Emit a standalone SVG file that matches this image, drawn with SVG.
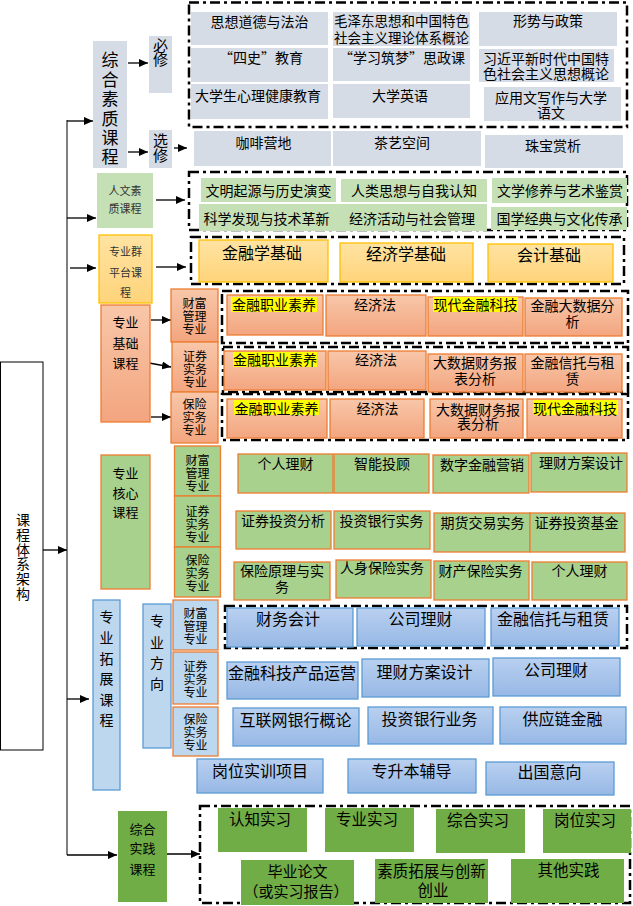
<svg xmlns="http://www.w3.org/2000/svg" width="633" height="906" viewBox="0 0 633 906">
<defs>
<linearGradient id="gSal" x1="0" y1="0" x2="0" y2="1"><stop offset="0" stop-color="#f8c7a9"/><stop offset="1" stop-color="#f3a57f"/></linearGradient>
<linearGradient id="gOra" x1="0" y1="0" x2="0" y2="1"><stop offset="0" stop-color="#ffe3a2"/><stop offset="1" stop-color="#ffd47a"/></linearGradient>
<linearGradient id="gBlu" x1="0" y1="0" x2="0" y2="1"><stop offset="0" stop-color="#b9d0f0"/><stop offset="1" stop-color="#97b8e5"/></linearGradient>
<marker id="ah" markerUnits="userSpaceOnUse" markerWidth="9" markerHeight="8" refX="9" refY="4" orient="auto"><path d="M0,0 L9,4 L0,8 z" fill="#000"/></marker>
</defs>
<style>
text{font-family:"Noto Sans CJK SC","Noto Sans",sans-serif;dominant-baseline:central;text-anchor:middle;fill:#000}
.s11{font-size:11px;fill:#333}.s12{font-size:12px}.s13{font-size:13px}.s135{font-size:13.5px}.s14{font-size:14px}.s15{font-size:15px}.s155{font-size:15.5px}.s16{font-size:16px}.s17{font-size:17px}
.grey{fill:#d6dce5}
.hum{fill:#c5e0b4}
.plat{fill:url(#gOra);stroke:#ffc000;stroke-width:1.3}
.sal{fill:url(#gSal);stroke:#ed7d31;stroke-width:1.3}
.core{fill:#a9d18e;stroke:#ed7d31;stroke-width:1.3}
.lb{fill:#bdd7ee;stroke:#5b9bd5;stroke-width:1.3}
.lbo{fill:#bdd7ee;stroke:#ed7d31;stroke-width:1.3}
.blu{fill:url(#gBlu);stroke:#5b9bd5;stroke-width:1.3}
.prac{fill:#70ad47}
.dash{fill:none;stroke:#000;stroke-width:2.5;stroke-dasharray:10 4 3 4}
.hl{fill:#ffff00}
.arr{stroke:#000;stroke-width:1.3;marker-end:url(#ah)}
.trunk{stroke:#555;stroke-width:1.5}
</style>

<g id="root">
<rect x="0.5" y="362" width="42.5" height="388" fill="#fff" stroke="#000" stroke-width="1"/>
<text class="s14"><tspan x="23" y="519">课</tspan><tspan x="23" y="534">程</tspan><tspan x="23" y="548.5">体</tspan><tspan x="23" y="563">系</tspan><tspan x="23" y="578">架</tspan><tspan x="23" y="592.5">构</tspan></text>
</g>

<g id="connectors">
<line class="trunk" x1="67" y1="120" x2="67" y2="855"/>
<line class="arr" x1="67" y1="121" x2="93" y2="121"/>
<line class="arr" x1="67" y1="218" x2="96" y2="218"/>
<line class="arr" x1="70" y1="268" x2="96" y2="268"/>
<line class="arr" x1="43" y1="550" x2="67" y2="550"/>
<line class="arr" x1="67" y1="699" x2="89" y2="699"/>
<line class="arr" x1="67" y1="855" x2="117" y2="855"/>
<line class="arr" x1="128" y1="63" x2="148" y2="63"/>
<line class="arr" x1="128" y1="152" x2="148" y2="152"/>
<line class="arr" x1="174" y1="148" x2="187" y2="148"/>
<line class="arr" x1="156" y1="200" x2="185" y2="200"/>
<line class="arr" x1="156" y1="267" x2="186" y2="267"/>
<line class="arr" x1="151" y1="320" x2="171" y2="320"/>
<line class="arr" x1="149" y1="363" x2="171" y2="367"/>
<line class="arr" x1="151" y1="417" x2="171" y2="417"/>
<line class="arr" x1="167" y1="854" x2="200" y2="854"/>
</g>

<g id="zonghe">
<rect class="grey" x="93" y="41" width="34" height="127"/>
<text class="s17"><tspan x="110" y="58">综</tspan><tspan x="110" y="78">合</tspan><tspan x="110" y="97">素</tspan><tspan x="110" y="117">质</tspan><tspan x="110" y="136">课</tspan><tspan x="110" y="155">程</tspan></text>
</g>
<g id="bixiu">
<rect class="grey" x="149" y="36" width="23" height="57"/>
<text class="s15"><tspan x="160.5" y="43.5">必</tspan><tspan x="160.5" y="58">修</tspan></text>
</g>
<g id="xuanxiu">
<rect class="grey" x="149" y="130" width="23" height="38"/>
<text class="s15"><tspan x="160.5" y="138.5">选</tspan><tspan x="160.5" y="154">修</tspan></text>
</g>
<g id="bixiu-courses">
<rect class="dash" x="189" y="2.5" width="438" height="124.5"/>
<rect class="grey" x="191" y="12" width="137" height="33"/>
<text class="s14" x="259.5" y="21">思想道德与法治</text>
<rect class="grey" x="333" y="12" width="137" height="34"/>
<text class="s135"><tspan x="401.5" y="20">毛泽东思想和中国特色</tspan><tspan x="401.5" y="37">社会主义理论体系概论</tspan></text>
<rect class="grey" x="479" y="12" width="138" height="34"/>
<text class="s14" x="548" y="20">形势与政策</text>
<rect class="grey" x="191" y="48" width="137" height="34"/>
<text class="s14" x="261" y="57">“四史”教育</text>
<rect class="grey" x="333" y="48" width="137" height="33"/>
<text class="s14" x="402" y="57">“学习筑梦”思政课</text>
<rect class="grey" x="479" y="49" width="135" height="33"/>
<text class="s14"><tspan x="546" y="58">习近平新时代中国特</tspan><tspan x="546" y="73">色社会主义思想概论</tspan></text>
<rect class="grey" x="191" y="84" width="137" height="35"/>
<text class="s14" x="258" y="95">大学生心理健康教育</text>
<rect class="grey" x="333" y="84" width="137" height="34"/>
<text class="s14" x="400" y="95">大学英语</text>
<rect class="grey" x="484" y="87" width="137" height="34"/>
<text class="s14"><tspan x="551" y="97">应用文写作与大学</tspan><tspan x="551" y="112">语文</tspan></text>
</g>
<g id="xuanxiu-courses">
<rect class="grey" x="194" y="131" width="137" height="35"/>
<text class="s14" x="263.5" y="142">咖啡营地</text>
<rect class="grey" x="333" y="131" width="148" height="35"/>
<text class="s14" x="402" y="142">茶艺空间</text>
<rect class="grey" x="485" y="135" width="138" height="33"/>
<text class="s14" x="553" y="145">珠宝赏析</text>
</g>

<g id="renwen">
<rect class="hum" x="97" y="173" width="56" height="55"/>
<text class="s11"><tspan x="125" y="190">人文素</tspan><tspan x="125" y="208">质课程</tspan></text>
</g>
<g id="renwen-courses">
<rect class="dash" x="189" y="172" width="438" height="58"/>
<rect class="hum" x="201" y="178" width="135" height="24"/>
<text class="s14" x="268.5" y="190">文明起源与历史演变</text>
<rect class="hum" x="341" y="179" width="146" height="23"/>
<text class="s14" x="414" y="190">人类思想与自我认知</text>
<rect class="hum" x="492" y="178" width="135" height="25"/>
<text class="s14" x="560" y="190">文学修养与艺术鉴赏</text>
<rect class="hum" x="199" y="204" width="141" height="27"/>
<text class="s14" x="266.5" y="218">科学发现与技术革新</text>
<rect class="hum" x="340" y="204" width="147" height="27"/>
<text class="s14" x="412" y="218">经济活动与社会管理</text>
<rect class="hum" x="491" y="207" width="136" height="23"/>
<text class="s14" x="559.5" y="218">国学经典与文化传承</text>
</g>

<g id="pingtai">
<rect class="plat" x="99" y="235" width="53" height="68"/>
<text class="s11"><tspan x="125.5" y="251">专业群</tspan><tspan x="125.5" y="272">平台课</tspan><tspan x="125.5" y="292">程</tspan></text>
</g>
<g id="pingtai-courses">
<rect class="dash" x="191" y="237" width="433" height="47"/>
<rect class="plat" x="199" y="240" width="129" height="42"/>
<text class="s16" x="262" y="252">金融学基础</text>
<rect class="plat" x="340" y="243" width="133" height="39"/>
<text class="s16" x="406" y="253">经济学基础</text>
<rect class="plat" x="488" y="244" width="125" height="38"/>
<text class="s16" x="549" y="254">会计基础</text>
</g>

<g id="jichu">
<rect class="sal" x="101" y="305" width="49" height="117"/>
<text class="s13"><tspan x="125.5" y="321">专业</tspan><tspan x="125.5" y="342">基础</tspan><tspan x="125.5" y="362">课程</tspan></text>
</g>
<g id="jichu-caifu">
<rect class="sal" x="171" y="289" width="47" height="53"/>
<text class="s12"><tspan x="194.5" y="302">财富</tspan><tspan x="194.5" y="315">管理</tspan><tspan x="194.5" y="328">专业</tspan></text>
</g>
<g id="jichu-zhengquan">
<rect class="sal" x="172" y="342" width="46" height="50"/>
<text class="s12"><tspan x="195" y="355">证券</tspan><tspan x="195" y="368">实务</tspan><tspan x="195" y="381">专业</tspan></text>
</g>
<g id="jichu-baoxian">
<rect class="sal" x="171" y="392" width="47" height="51"/>
<text class="s12"><tspan x="194.5" y="403">保险</tspan><tspan x="194.5" y="416">实务</tspan><tspan x="194.5" y="429">专业</tspan></text>
</g>
<g id="jichu-courses">
<rect class="dash" x="222" y="291" width="406" height="52"/>
<rect class="dash" x="223" y="347" width="405" height="45"/>
<rect class="dash" x="222" y="394" width="406" height="46"/>
<rect class="sal" x="227" y="295" width="96" height="40"/>
<rect class="hl" x="231" y="297" width="86" height="15"/>
<text class="s14" x="274" y="304">金融职业素养</text>
<rect class="sal" x="326" y="295" width="100" height="41"/>
<text class="s14" x="375" y="304">经济法</text>
<rect class="sal" x="428" y="297" width="95" height="39"/>
<rect class="hl" x="433" y="297" width="85" height="15"/>
<text class="s14" x="475.5" y="304">现代金融科技</text>
<rect class="sal" x="525" y="298" width="97" height="38"/>
<text class="s14"><tspan x="572.5" y="305">金融大数据分</tspan><tspan x="572.5" y="321">析</tspan></text>

<rect class="sal" x="224" y="351" width="102" height="39"/>
<rect class="hl" x="233" y="352" width="84" height="15"/>
<text class="s14" x="275" y="359">金融职业素养</text>
<rect class="sal" x="328" y="351" width="98" height="39"/>
<text class="s14" x="376" y="359">经济法</text>
<rect class="sal" x="428" y="354" width="95" height="38"/>
<text class="s14"><tspan x="475" y="362">大数据财务报</tspan><tspan x="475" y="378">表分析</tspan></text>
<rect class="sal" x="525" y="354" width="97" height="38"/>
<text class="s14"><tspan x="572.5" y="362">金融信托与租</tspan><tspan x="572.5" y="378">赁</tspan></text>

<rect class="sal" x="227" y="399" width="100" height="39"/>
<rect class="hl" x="234" y="400" width="85" height="15"/>
<text class="s14" x="276.5" y="408">金融职业素养</text>
<rect class="sal" x="330" y="399" width="94" height="39"/>
<text class="s14" x="377.5" y="408">经济法</text>
<rect class="sal" x="430" y="399" width="93" height="39"/>
<text class="s14"><tspan x="478" y="409">大数据财务报</tspan><tspan x="478" y="423">表分析</tspan></text>
<rect class="sal" x="527" y="399" width="95" height="39"/>
<rect class="hl" x="533" y="400" width="85" height="15"/>
<text class="s14" x="575" y="408">现代金融科技</text>
</g>

<g id="hexin">
<rect class="core" x="101" y="455" width="49" height="134"/>
<text class="s13"><tspan x="125.5" y="472">专业</tspan><tspan x="125.5" y="492">核心</tspan><tspan x="125.5" y="511">课程</tspan></text>
</g>
<g id="hexin-caifu">
<rect class="core" x="174.5" y="446" width="46" height="50"/>
<text class="s12"><tspan x="197.5" y="459">财富</tspan><tspan x="197.5" y="472">管理</tspan><tspan x="197.5" y="485">专业</tspan></text>
</g>
<g id="hexin-zhengquan">
<rect class="core" x="174.5" y="496" width="46" height="51"/>
<text class="s12"><tspan x="197.5" y="510">证券</tspan><tspan x="197.5" y="523">实务</tspan><tspan x="197.5" y="536">专业</tspan></text>
</g>
<g id="hexin-baoxian">
<rect class="core" x="174.5" y="547" width="46" height="50"/>
<text class="s12"><tspan x="197.5" y="559">保险</tspan><tspan x="197.5" y="572">实务</tspan><tspan x="197.5" y="585">专业</tspan></text>
</g>
<g id="hexin-courses">
<rect class="core" x="238" y="454" width="95" height="39"/>
<text class="s14" x="285.5" y="463">个人理财</text>
<rect class="core" x="334" y="454" width="95" height="39"/>
<text class="s14" x="382" y="463">智能投顾</text>
<rect class="core" x="433" y="455" width="96" height="38"/>
<text class="s14" x="482" y="464">数字金融营销</text>
<rect class="core" x="531" y="453" width="96" height="39"/>
<text class="s14" x="581" y="462">理财方案设计</text>
<rect class="core" x="236" y="511" width="95" height="38"/>
<text class="s14" x="283" y="520">证券投资分析</text>
<rect class="core" x="334" y="511" width="96" height="38"/>
<text class="s14" x="381.5" y="520">投资银行实务</text>
<rect class="core" x="434" y="513" width="96" height="39"/>
<text class="s14" x="482.5" y="522">期货交易实务</text>
<rect class="core" x="530" y="513" width="95" height="39"/>
<text class="s14" x="576.5" y="522">证券投资基金</text>
<rect class="core" x="234" y="562" width="96" height="38"/>
<text class="s14"><tspan x="282" y="570">保险原理与实</tspan><tspan x="282" y="586">务</tspan></text>
<rect class="core" x="336" y="560" width="95" height="38"/>
<text class="s14" x="382" y="567">人身保险实务</text>
<rect class="core" x="434" y="561" width="95" height="39"/>
<text class="s14" x="480.5" y="570">财产保险实务</text>
<rect class="core" x="532" y="562" width="95" height="38"/>
<text class="s14" x="579.5" y="570">个人理财</text>
</g>

<g id="tuozhan">
<rect class="lb" x="93" y="600" width="27" height="190"/>
<text class="s14"><tspan x="106.5" y="616">专</tspan><tspan x="106.5" y="637">业</tspan><tspan x="106.5" y="658">拓</tspan><tspan x="106.5" y="678">展</tspan><tspan x="106.5" y="699">课</tspan><tspan x="106.5" y="719">程</tspan></text>
</g>
<g id="fangxiang">
<rect class="lb" x="143" y="604" width="28" height="144"/>
<text class="s14"><tspan x="157" y="620">专</tspan><tspan x="157" y="642">业</tspan><tspan x="157" y="662">方</tspan><tspan x="157" y="683">向</tspan></text>
</g>
<g id="tuozhan-caifu">
<rect class="lbo" x="173" y="600" width="45" height="50"/>
<text class="s12"><tspan x="195.5" y="612">财富</tspan><tspan x="195.5" y="625">管理</tspan><tspan x="195.5" y="638">专业</tspan></text>
</g>
<g id="tuozhan-zhengquan">
<rect class="lbo" x="173" y="652" width="45" height="52"/>
<text class="s12"><tspan x="195.5" y="665">证券</tspan><tspan x="195.5" y="678">实务</tspan><tspan x="195.5" y="691">专业</tspan></text>
</g>
<g id="tuozhan-baoxian">
<rect class="lbo" x="173" y="707" width="45" height="49"/>
<text class="s12"><tspan x="195.5" y="718">保险</tspan><tspan x="195.5" y="731">实务</tspan><tspan x="195.5" y="744">专业</tspan></text>
</g>
<g id="tuozhan-courses">
<rect class="dash" x="225" y="606" width="402" height="42"/>
<rect class="blu" x="227" y="608" width="126" height="39"/>
<text class="s16" x="288" y="618">财务会计</text>
<rect class="blu" x="357" y="608" width="128" height="38"/>
<text class="s16" x="420.5" y="618">公司理财</text>
<rect class="blu" x="491" y="608" width="128" height="38"/>
<text class="s16" x="553" y="618">金融信托与租赁</text>
<rect class="blu" x="227" y="662" width="131" height="37"/>
<text class="s16" x="292" y="672">金融科技产品运营</text>
<rect class="blu" x="362" y="659" width="127" height="38"/>
<text class="s16" x="424.5" y="671">理财方案设计</text>
<rect class="blu" x="493" y="658" width="127" height="38"/>
<text class="s16" x="556" y="669">公司理财</text>
<rect class="blu" x="233" y="708" width="126" height="38"/>
<text class="s16" x="295.5" y="719">互联网银行概论</text>
<rect class="blu" x="368" y="707" width="125" height="37"/>
<text class="s16" x="429.5" y="718">投资银行业务</text>
<rect class="blu" x="500" y="707" width="126" height="37"/>
<text class="s16" x="562.5" y="718">供应链金融</text>
<rect class="blu" x="197" y="759" width="126" height="34"/>
<text class="s16" x="260" y="770">岗位实训项目</text>
<rect class="blu" x="348" y="759" width="128" height="34"/>
<text class="s16" x="411.5" y="770">专升本辅导</text>
<rect class="blu" x="486" y="762" width="128" height="33"/>
<text class="s16" x="549.5" y="771">出国意向</text>
</g>

<g id="shijian">
<rect class="prac" x="118" y="811" width="49" height="91"/>
<text class="s13"><tspan x="142.5" y="828">综合</tspan><tspan x="142.5" y="847">实践</tspan><tspan x="142.5" y="868">课程</tspan></text>
</g>
<g id="shijian-courses">
<rect class="dash" x="200" y="806" width="430" height="97"/>
<rect class="prac" x="218" y="808" width="89" height="44"/>
<text class="s155" x="260" y="818">认知实习</text>
<rect class="prac" x="325" y="808" width="89" height="44"/>
<text class="s155" x="367" y="818">专业实习</text>
<rect class="prac" x="436" y="809" width="89" height="44"/>
<text class="s155" x="478" y="819">综合实习</text>
<rect class="prac" x="543" y="809" width="88" height="44"/>
<text class="s155" x="585" y="819">岗位实习</text>
<rect class="prac" x="241" y="860" width="113" height="45"/>
<text class="s15"><tspan x="297.5" y="870">毕业论文</tspan><tspan x="296" y="890">（或实习报告）</tspan></text>
<rect class="prac" x="375" y="859" width="113" height="44"/>
<text class="s155"><tspan x="431.5" y="870">素质拓展与创新</tspan><tspan x="433" y="889">创业</tspan></text>
<rect class="prac" x="511" y="859" width="113" height="44"/>
<text class="s155" x="568.5" y="869">其他实践</text>
</g>
</svg>
